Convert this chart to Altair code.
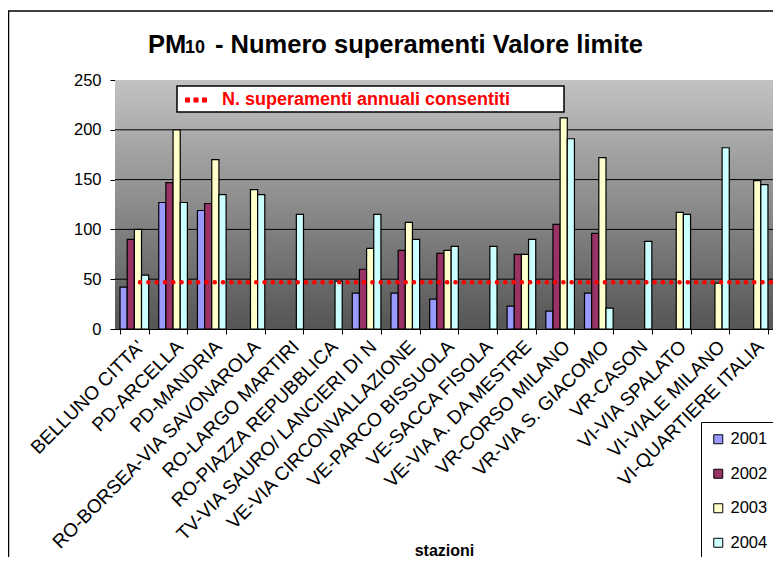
import altair as alt
import pandas as pd

stations = ["BELLUNO CITTA'", "PD-ARCELLA", "PD-MANDRIA", "RO-BORSEA-VIA SAVONAROLA",
            "RO-LARGO MARTIRI", "RO-PIAZZA REPUBBLICA", "TV-VIA SAURO/ LANCIERI DI N",
            "VE-VIA CIRCONVALLAZIONE", "VE-PARCO BISSUOLA", "VE-SACCA FISOLA",
            "VE-VIA A. DA MESTRE", "VR-CORSO MILANO", "VR-VIA S. GIACOMO", "VR-CASON",
            "VI-VIA SPALATO", "VI-VIALE MILANO", "VI-QUARTIERE ITALIA"]
years = ["2001", "2002", "2003", "2004"]
v2001 = [42, 127, 119, None, None, None, 36, 36, 30, None, 23, 18, 36, None, None, None, None]
v2002 = [90, 147, 126, None, None, None, 60, 79, 76, None, 75, 105, 96, None, None, None, None]
v2003 = [100, 200, 170, 140, None, None, 81, 107, 79, None, 75, 212, 172, None, 117, 46, 149]
v2004 = [54, 127, 135, 135, 115, 48, 115, 90, 83, 83, 90, 191, 21, 88, 115, 182, 145]
colors = ["#9999FF", "#993366", "#FFFFCC", "#CCFFFF"]
threshold = [47]
grid_values = [50, 100, 150, 200]
y_ticks = [0, 50, 100, 150, 200, 250]

rows = []
for y, vals in zip(years, [v2001, v2002, v2003, v2004]):
    for s, v in zip(stations, vals):
        if v is not None:
            rows.append({"station": s, "year": y, "value": v})
df = pd.DataFrame(rows)

FONT = "Liberation Sans"
W, H = 658, 249
one = alt.Data(values=[{}])
yscale = alt.Scale(domain=[0, 250], nice=False)
yaxis = alt.Axis(values=y_ticks, grid=False, labelFontSize=16.5, labelFont=FONT,
                 labelColor="black", domainColor="black", tickColor="black",
                 tickSize=5, labelPadding=9, title=None)

bg = alt.Chart(one).mark_rect(
    color=alt.Gradient(gradient="linear", x1=0, x2=0, y1=0, y2=1,
                       stops=[alt.GradientStop(color="#c2c2c2", offset=0),
                              alt.GradientStop(color="#555555", offset=1)])
).encode(x=alt.value(0), x2=alt.value("width"), y=alt.value(0), y2=alt.value("height"))

grid = alt.Chart(pd.DataFrame({"value": grid_values})).mark_rule(color="black", strokeWidth=1).encode(
    y=alt.Y("value:Q", scale=yscale, axis=yaxis)
)

bars = alt.Chart(df).mark_bar(stroke="black", strokeWidth=1.2).encode(
    x=alt.X("station:N", sort=stations, title="stazioni",
            scale=alt.Scale(paddingInner=0.26, paddingOuter=0.13),
            axis=alt.Axis(labelAngle=-45, tickBand="extent", labelLimit=0, labelFontSize=19,
                          labelFont=FONT, labelColor="black", domainColor="black",
                          tickColor="black", tickSize=5, labelPadding=3,
                          titleFont=FONT, titleFontSize=16, titleFontWeight="bold",
                          titleColor="black", titleY=221, titleBaseline="middle")),
    xOffset=alt.XOffset("year:N", scale=alt.Scale(domain=years, paddingInner=0, paddingOuter=0)),
    y=alt.Y("value:Q", scale=yscale, axis=yaxis),
    color=alt.Color("year:N", scale=alt.Scale(domain=years, range=colors),
                    legend=alt.Legend(title=None, orient="none", legendX=586, legendY=342,
                                      symbolType="square", symbolSize=81,
                                      symbolStrokeColor="black", symbolStrokeWidth=1,
                                      labelFontSize=16.5, labelFont=FONT, labelColor="black",
                                      strokeColor="black", fillColor="white", padding=9,
                                      rowPadding=17.5, symbolOpacity=1)),
)

thr = alt.Chart(pd.DataFrame({"value": threshold})).mark_rule(
    color="#FF0000", strokeWidth=4.5, strokeCap="round", strokeDash=[0.1, 8.2]
).encode(y=alt.Y("value:Q", scale=yscale, axis=yaxis), x=alt.value(25), x2=alt.value(W))

ann_box = alt.Chart(one).mark_rect(fill="white", stroke="black", strokeWidth=1.5).encode(
    x=alt.value(62), x2=alt.value(449), y=alt.value(6), y2=alt.value(32))
ann_dots = alt.Chart(one).mark_rule(color="#FF0000", strokeWidth=5, strokeDash=[5, 3.5]).encode(
    x=alt.value(70), x2=alt.value(94), y=alt.value(20))
ann_text = alt.Chart(one).mark_text(
    text="N. superamenti annuali consentiti", font=FONT, fontSize=18, fontWeight="bold",
    color="#FF0000", align="left", baseline="middle"
).encode(x=alt.value(107), y=alt.value(20))

t1 = alt.Chart(one).mark_text(text="PM", font=FONT, fontSize=25.5, fontWeight="bold",
                              color="black", align="left", baseline="alphabetic").encode(
    x=alt.value(33), y=alt.value(-27))
t2 = alt.Chart(one).mark_text(text="10", font=FONT, fontSize=18, fontWeight="bold",
                              color="black", align="left", baseline="alphabetic").encode(
    x=alt.value(70), y=alt.value(-27))
t3 = alt.Chart(one).mark_text(text="- Numero superamenti Valore limite", font=FONT, fontSize=25.5,
                              fontWeight="bold", color="black", align="left",
                              baseline="alphabetic").encode(
    x=alt.value(100), y=alt.value(-27))

border = alt.Chart(one).mark_rect(fill=None, stroke="black", strokeWidth=1.5).encode(
    x=alt.value(-106.5), x2=alt.value(700), y=alt.value(-69), y2=alt.value(600))

chart = alt.layer(bg, grid, bars, thr, ann_box, ann_dots, ann_text, t1, t2, t3, border).properties(
    width=W, height=H,
    autosize=alt.AutoSizeParams(type="none"),
    padding={"left": 107, "top": 72, "right": 0, "bottom": 228},
    background="white",
).configure_view(stroke="#888888", strokeWidth=1)

chart.save("out.html", embed_options={"renderer": "svg", "actions": False})
